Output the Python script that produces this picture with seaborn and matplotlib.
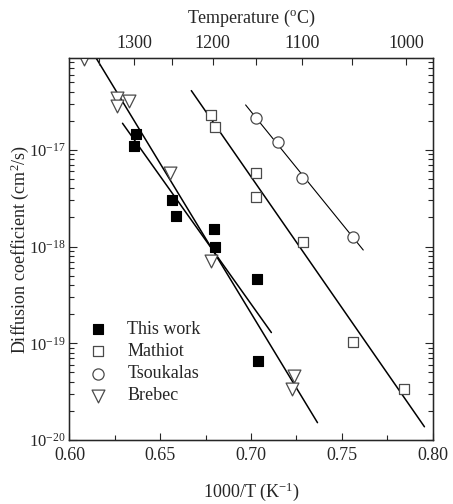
import numpy as np
import pandas as pd
import matplotlib
matplotlib.use("Agg")
import matplotlib.pyplot as plt
import seaborn as sns
from matplotlib.ticker import FixedLocator, LogLocator, NullFormatter, MultipleLocator

# ---------------- data ----------------
this_x = [0.6367, 0.6358, 0.6565, 0.6588, 0.6794, 0.6800, 0.7032, 0.7040]
this_y = [1.44e-17, 1.10e-17, 3.03e-18, 2.06e-18, 1.52e-18, 9.9e-19, 4.6e-19, 6.6e-20]

mathiot_x = [0.6780, 0.6804, 0.7027, 0.7025, 0.7286, 0.7562, 0.7844]
mathiot_y = [2.28e-17, 1.74e-17, 5.81e-18, 3.26e-18, 1.12e-18, 1.03e-19, 3.35e-20]

tsouk_x = [0.7025, 0.7148, 0.7283, 0.7562]
tsouk_y = [2.14e-17, 1.20e-17, 5.09e-18, 1.25e-18]

brebec_x = [0.6080, 0.6264, 0.6264, 0.6329, 0.6551, 0.6780, 0.7236, 0.7228]
brebec_y = [8.6e-17, 3.42e-17, 2.86e-17, 3.21e-17, 5.73e-18, 7.1e-19, 4.59e-20, 3.37e-20]

# Arrhenius fit lines (end points)
fit_brebec_x = [0.6146, 0.7366]
fit_brebec_y = [8.92e-17, 1.51e-20]
fit_this_x = [0.6292, 0.7112]
fit_this_y = [1.88e-17, 1.29e-19]
fit_mathiot_x = [0.6671, 0.7955]
fit_mathiot_y = [4.09e-17, 1.37e-20]
fit_tsouk_x = [0.6970, 0.7618]
fit_tsouk_y = [2.91e-17, 9.2e-19]

temp_major = [1300, 1200, 1100, 1000]
temp_minor = [1350, 1250, 1150, 1050]

# ---------------- style ----------------
sns.set_style("ticks")
plt.rcParams['font.family'] = ['Liberation Serif', 'DejaVu Serif']
plt.rcParams['mathtext.fontset'] = 'custom'
plt.rcParams['mathtext.rm'] = 'Liberation Serif'
plt.rcParams['mathtext.it'] = 'Liberation Serif:italic'
plt.rcParams['font.size'] = 13

FS = 13

fig = plt.figure(figsize=(4.53, 5.04), dpi=100)
ax = fig.add_axes([0.1534, 0.127, 0.8016, 0.758])

# fit lines
for fx, fy, lw in [(fit_brebec_x, fit_brebec_y, 1.1), (fit_this_x, fit_this_y, 1.1),
                   (fit_mathiot_x, fit_mathiot_y, 1.1), (fit_tsouk_x, fit_tsouk_y, 0.8)]:
    sns.lineplot(x=fx, y=fy, ax=ax, color='black', lw=lw, legend=False)

gray = '#4a4a4a'
sns.scatterplot(x=this_x, y=this_y, ax=ax, marker='s', s=55, color='black',
                edgecolor='black', linewidth=0.8, label='This work', zorder=3)
sns.scatterplot(x=mathiot_x, y=mathiot_y, ax=ax, marker='s', s=60, facecolor='white',
                edgecolor=gray, linewidth=0.9, label='Mathiot', zorder=3)
sns.scatterplot(x=tsouk_x, y=tsouk_y, ax=ax, marker='o', s=65, facecolor='white',
                edgecolor=gray, linewidth=0.9, label='Tsoukalas', zorder=3)
sns.scatterplot(x=brebec_x, y=brebec_y, ax=ax, marker='v', s=85, facecolor='white',
                edgecolor=gray, linewidth=0.9, label='Brebec', zorder=3)

ax.set_yscale('log')
ax.set_xlim(0.60, 0.80)
ax.set_ylim(1e-20, 8.9e-17)

ax.xaxis.set_minor_locator(MultipleLocator(0.025))
ax.set_xticks([0.60, 0.65, 0.70, 0.75, 0.80])
ax.set_xticklabels(['0.60', '0.65', '0.70', '0.75', '0.80'])
ax.yaxis.set_minor_locator(LogLocator(base=10, subs=np.arange(2, 10), numticks=20))
ax.yaxis.set_minor_formatter(NullFormatter())
ax.set_yticks([1e-20, 1e-19, 1e-18, 1e-17])
ax.set_yticklabels([r'$10^{-20}$', r'$10^{-19}$', r'$10^{-18}$', r'$10^{-17}$'])

ax.tick_params(which='both', direction='in', top=False, right=True, labelsize=FS)
ax.tick_params(axis='y', labelsize=12)
ax.tick_params(axis='x', which='major', length=5, width=0.8, pad=5)
ax.tick_params(axis='x', which='minor', length=3.5, width=0.8)
ax.tick_params(axis='y', which='major', length=6, width=0.8, pad=3)
ax.tick_params(axis='y', which='minor', length=3.5, width=0.8)
for sp in ax.spines.values():
    sp.set_linewidth(1.0)
    sp.set_color('black')

ax.set_xlabel(r'1000/T (K$^{-1}$)', fontsize=FS, labelpad=12)
ax.set_ylabel(r'Diffusion coefficient (cm$^{2}$/s)', fontsize=13)
ax.yaxis.set_label_coords(-0.107, 0.5)

# top axis: temperature in C
ax2 = ax.twiny()
ax2.set_xlim(ax.get_xlim())
ax2.set_xticks([1000.0 / (t + 273.15) for t in temp_major])
ax2.set_xticklabels([str(t) for t in temp_major])
ax2.xaxis.set_minor_locator(FixedLocator([1000.0 / (t + 273.15) for t in temp_minor]))
ax2.tick_params(which='both', direction='in', labelsize=FS, pad=4)
ax2.tick_params(which='major', length=5, width=0.8)
ax2.tick_params(which='minor', length=5, width=0.8)
ax2.set_xlabel(r'Temperature ($^{\rm o}$C)', fontsize=FS, labelpad=9)

leg = ax.legend(loc='upper left', bbox_to_anchor=(0.03, 0.33), frameon=False,
                fontsize=FS, handletextpad=1.0, labelspacing=0.28, borderaxespad=0,
                handlelength=1.2)

fig.savefig('out.png', dpi=100)
